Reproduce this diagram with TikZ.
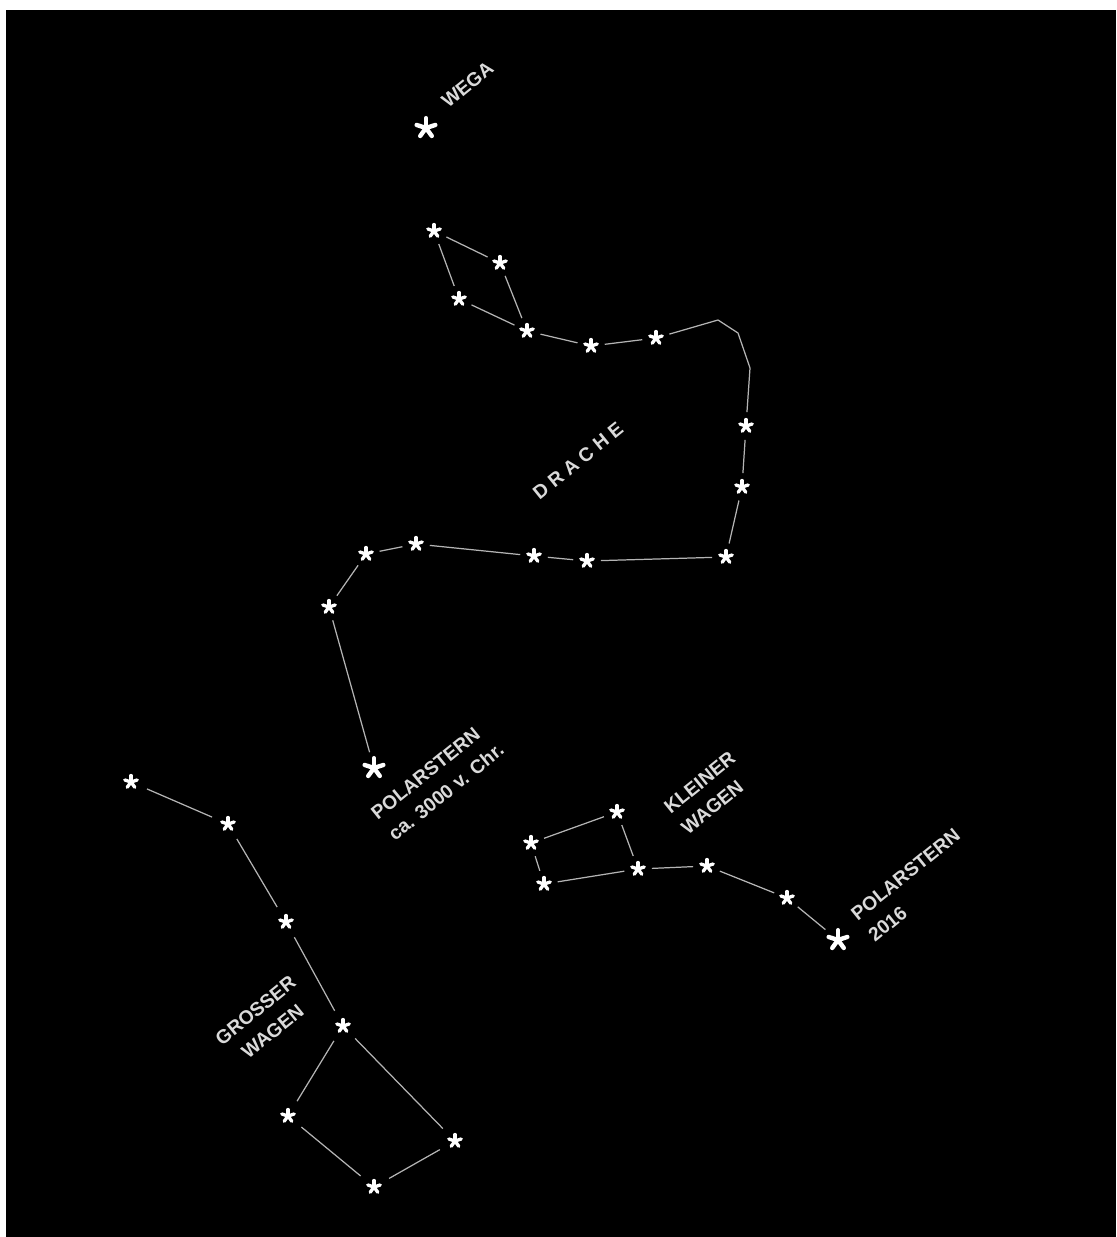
\documentclass[tikz,border=0pt]{standalone}
\usepackage{fontspec}
\setmainfont{Liberation Sans}
\usepackage{xcolor}
\definecolor{skyBlack}{HTML}{000000}
\definecolor{linkGrey}{HTML}{B4B4B4}
\definecolor{labelGrey}{HTML}{DADADA}
\usepackage{tikz}

\tikzset{
  faintstar/.style={circle, inner sep=0pt, minimum size=0.54cm,
    path picture={\foreach \a in {18,90,162,234,306}
      \draw[white, line width=1.9pt, line cap=round] (path picture bounding box.center) -- ++(\a:3.7pt);}},
  brightstar/.style={circle, inner sep=0pt, minimum size=0.64cm,
    path picture={\foreach \a in {18,90,162,234,306}
      \draw[white, line width=2.5pt, line cap=round] (path picture bounding box.center) -- ++(\a:5.6pt);}},
  link/.style={draw=linkGrey, line width=0.7pt},
  caption/.style={text=labelGrey, font=\bfseries\fontsize{11}{15.5}\selectfont, inner sep=0pt, rotate=39}
}

\begin{document}
\begin{tikzpicture}[x=0.02cm, y=-0.02cm]
  \useasboundingbox (0,0) rectangle (1116,1237);
  \fill[white] (0,0) rectangle (1116,1237);
  \fill[skyBlack] (6,10) rectangle (1116,1237);

  % the bright stars
  \node[brightstar] (wega) at (426,128) {};
  \node[brightstar] (polold) at (374,768) {};
  \node[brightstar] (polnew) at (838,940) {};

  % Drache
  \foreach \n/\x/\y in {d1/434/231, d2/500/263, d3/459/299, d4/527/331, d5/591/346,
      d6/656/338, d7/746/426, d8/742/487, d9/726/557, d10/587/561, d11/534/556,
      d12/416/544, d13/366/554, d14/329/607}
    \node[faintstar] (\n) at (\x,\y) {};
  \coordinate (bend1) at (718,320);
  \coordinate (bend2) at (738,333);
  \coordinate (bend3) at (750,368);
  \foreach \a/\b in {d1/d2, d1/d3, d2/d4, d3/d4, d4/d5, d5/d6, d7/d8, d8/d9,
      d9/d10, d10/d11, d11/d12, d12/d13, d13/d14, d14/polold}
    \draw[link] (\a) -- (\b);
  \draw[link] (d6) -- (bend1) -- (bend2) -- (bend3) -- (d7);

  % Kleiner Wagen
  \foreach \n/\x/\y in {k1/531/843, k2/617/812, k3/544/884, k4/638/869, k5/707/866, k6/787/898}
    \node[faintstar] (\n) at (\x,\y) {};
  \foreach \a/\b in {k1/k2, k1/k3, k2/k4, k3/k4, k4/k5, k5/k6, k6/polnew}
    \draw[link] (\a) -- (\b);

  % Grosser Wagen
  \foreach \n/\x/\y in {g1/131/782, g2/228/824, g3/286/922, g4/343/1026, g5/288/1116,
      g6/374/1187, g7/455/1141}
    \node[faintstar] (\n) at (\x,\y) {};
  \foreach \a/\b in {g1/g2, g2/g3, g3/g4, g4/g5, g5/g6, g6/g7, g7/g4}
    \draw[link, shorten >=2pt, shorten <=2pt] (\a) -- (\b);

  % labels
  \node[caption, anchor=base west] (wegalabel) at (448,109) {WEGA};
  \node[caption] (drachelabel) at (578,461) {D R A C H E};
  \node[caption, align=left, anchor=north west] (pololdlabel) at (369,810) {POLARSTERN\\ca. 3000 v. Chr.};
  \node[caption, align=left, anchor=north west] (kleinerlabel) at (662,804) {KLEINER\\WAGEN};
  \node[caption, align=left, anchor=north west] (polnewlabel) at (849,911) {POLARSTERN\\2016};
  \node[caption, align=center] (grosserlabel) at (264,1021) {GROSSER\\WAGEN};
\end{tikzpicture}
\end{document}
